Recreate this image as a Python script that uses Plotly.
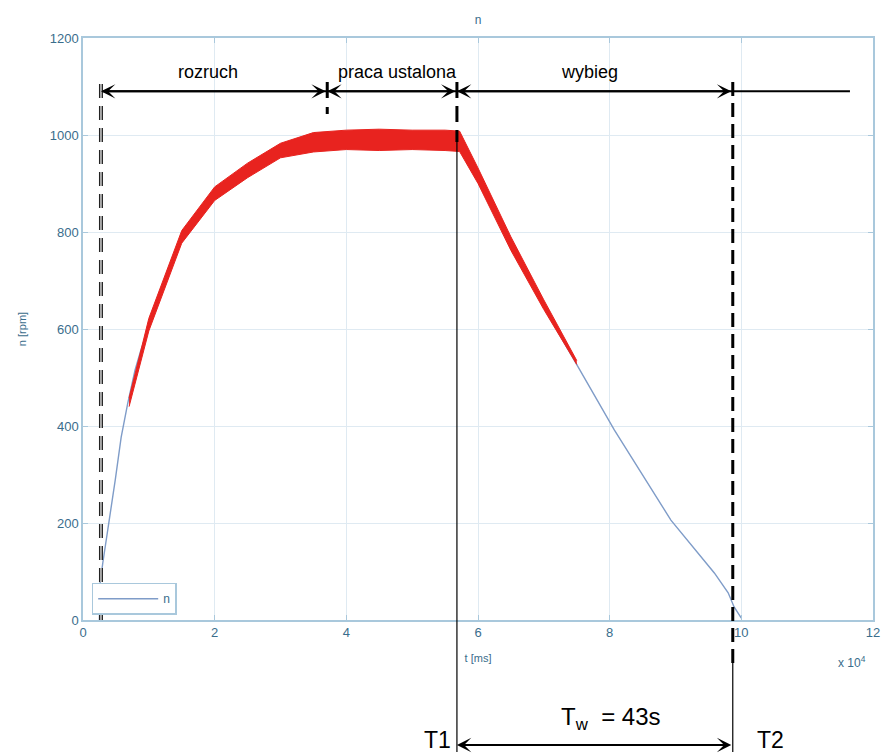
import plotly.graph_objects as go

# ---- data ----
t_n = [0.25, 0.26, 0.30, 0.38, 0.49, 0.58, 0.68, 0.79, 0.88, 1.10, 1.29, 1.48, 1.63, 1.87,
       2.13, 2.54, 2.94, 3.30, 3.80, 4.50, 5.20, 5.71, 5.94, 6.19, 6.54, 6.96, 7.52, 8.07,
       8.93, 9.59, 9.80, 9.89, 10.0]
n_rpm = [0, 76, 117, 186, 289, 377, 447, 515, 557, 645, 722, 784, 818, 852,
         897, 928, 963, 979, 990, 990, 990, 990, 928, 852, 763, 654, 522, 392,
         206, 97, 56, 27, 4]

# red noisy band envelope
t_band = [0.70, 1.00, 1.50, 2.00, 2.50, 3.00, 3.50, 4.00, 4.50, 5.00, 5.50, 5.72, 6.00, 6.50, 7.00, 7.50]
n_band_upper = [458, 622, 803, 893, 942, 983, 1005, 1010, 1012, 1010, 1010, 1008, 932, 790, 660, 535]
n_band_lower = [440, 596, 777, 865, 912, 953, 965, 970, 968, 970, 968, 966, 900, 762, 640, 527]

x_ticks = [0, 2, 4, 6, 8, 10, 12]
y_ticks = [0, 200, 400, 600, 800, 1000, 1200]

phase_labels = ["rozruch", "praca ustalona", "wybieg"]
phase_bounds = [0.273, 3.71, 5.68, 9.87]
arrow_end = 11.65
arrow_y = 1090

AX = "#a9c8dc"
GRID = "#dfeaf2"
TXT = "#3a6d8c"
FONT = "Liberation Sans, Arial"

fig = go.Figure()

fig.add_trace(go.Scatter(x=t_n, y=n_rpm, mode="lines", name="n",
                         line=dict(color="#7f9cc8", width=1.4)))
fig.add_trace(go.Scatter(x=t_band, y=n_band_upper, mode="lines", showlegend=False,
                         line=dict(color="#e8231f", width=1), hoverinfo="skip"))
fig.add_trace(go.Scatter(x=t_band, y=n_band_lower, mode="lines", showlegend=False,
                         fill="tonexty", fillcolor="#e8231f",
                         line=dict(color="#e8231f", width=1), hoverinfo="skip"))

# ---- pixel helpers for the fixed layout ----
PT, PB = 38, 620
def py(p):
    return (PB - p) / (PB - PT)

L, R = 83, 873
XS = (R - L) / 12.0  # px per x-unit

shapes = []
shapes.append(dict(type="line", xref="x", yref="y", x0=phase_bounds[0], x1=arrow_end,
                   y0=arrow_y, y1=arrow_y, line=dict(color="black", width=2)))
shapes.append(dict(type="line", xref="x", yref="paper", x0=phase_bounds[0], x1=phase_bounds[0],
                   y0=py(84), y1=py(620), line=dict(color="#222", width=4, dash="14px,8px")))
shapes.append(dict(type="line", xref="x", yref="paper", x0=phase_bounds[0], x1=phase_bounds[0],
                   y0=py(84), y1=py(620), line=dict(color="#cfcfcf", width=1.5, dash="14px,8px")))
shapes.append(dict(type="line", xref="x", yref="paper", x0=phase_bounds[1], x1=phase_bounds[1],
                   y0=py(82), y1=py(114), line=dict(color="black", width=3, dash="16px,9px")))
shapes.append(dict(type="line", xref="x", yref="paper", x0=phase_bounds[2], x1=phase_bounds[2],
                   y0=py(82), y1=py(142), line=dict(color="black", width=3, dash="16px,8px")))
shapes.append(dict(type="line", xref="x", yref="paper", x0=phase_bounds[2], x1=phase_bounds[2],
                   y0=py(130), y1=py(752), line=dict(color="black", width=1.2)))
shapes.append(dict(type="line", xref="x", yref="paper", x0=phase_bounds[3], x1=phase_bounds[3],
                   y0=py(82), y1=py(668), line=dict(color="black", width=3, dash="14px,7px")))
shapes.append(dict(type="line", xref="x", yref="paper", x0=phase_bounds[3], x1=phase_bounds[3],
                   y0=py(660), y1=py(752), line=dict(color="black", width=1.2)))

annotations = []
for i in range(3):
    a, b = phase_bounds[i], phase_bounds[i + 1]
    annotations.append(dict(x=a, y=arrow_y, xref="x", yref="y", text="", showarrow=True,
                            ax=(b - a) * XS, ay=0, axref="pixel", ayref="pixel",
                            arrowside="end+start", arrowhead=3, startarrowhead=3,
                            arrowsize=1.2, startarrowsize=1.2, arrowwidth=2,
                            arrowcolor="black", standoff=0, startstandoff=0))
label_x = [1.9, 4.77, 7.70]
for lab, lx in zip(phase_labels, label_x):
    annotations.append(dict(x=lx, y=py(72), xref="x", yref="paper", text=lab, showarrow=False,
                            font=dict(family=FONT, size=18, color="black"),
                            xanchor="center", yanchor="middle"))
annotations.append(dict(x=phase_bounds[2], y=py(745), xref="x", yref="paper", text="", showarrow=True,
                        ax=(phase_bounds[3] - phase_bounds[2]) * XS, ay=0, axref="pixel", ayref="pixel",
                        arrowside="end+start", arrowhead=3, startarrowhead=3,
                        arrowsize=1.2, startarrowsize=1.2, arrowwidth=2,
                        arrowcolor="black", standoff=0, startstandoff=0))
annotations.append(dict(x=5.38, y=py(740), xref="x", yref="paper", text="T1", showarrow=False,
                        font=dict(family=FONT, size=23, color="black"),
                        xanchor="center", yanchor="middle"))
annotations.append(dict(x=10.44, y=py(740), xref="x", yref="paper", text="T2", showarrow=False,
                        font=dict(family=FONT, size=23, color="black"),
                        xanchor="center", yanchor="middle"))
annotations.append(dict(x=8.02, y=py(718), xref="x", yref="paper",
                        text="T<sub>w</sub>  = 43s", showarrow=False,
                        font=dict(family=FONT, size=24, color="black"),
                        xanchor="center", yanchor="middle"))
annotations.append(dict(x=(852 - L) / (R - L), y=py(662), xref="paper", yref="paper",
                        text="x 10<sup>4</sup>", showarrow=False,
                        font=dict(family=FONT, size=12, color=TXT),
                        xanchor="center", yanchor="middle"))

fig.update_layout(
    width=883, height=756,
    margin=dict(l=L, r=883 - R, t=PT, b=756 - PB, autoexpand=False),
    paper_bgcolor="white", plot_bgcolor="white",
    title=dict(text="n", x=0.5, xref="paper", y=1 - 20 / 756, yref="container",
               xanchor="center", yanchor="middle",
               font=dict(family=FONT, size=12, color=TXT)),
    showlegend=True,
    legend=dict(x=0.011, y=0.009, xanchor="left", yanchor="bottom",
                bordercolor=AX, borderwidth=1.5, bgcolor="white", itemwidth=60,
                font=dict(family=FONT, size=12, color=TXT)),
    xaxis=dict(range=[0, 12], tickvals=x_ticks, ticktext=[str(v) for v in x_ticks],
               showgrid=True, gridcolor=GRID, gridwidth=1, zeroline=False,
               showline=True, linecolor=AX, linewidth=1.5, mirror="ticks",
               ticks="inside", ticklen=5, tickcolor=AX, ticklabeloverflow="allow",
               tickfont=dict(family=FONT, size=13, color=TXT),
               title=dict(text="t [ms]", standoff=15,
                          font=dict(family=FONT, size=11, color=TXT))),
    yaxis=dict(range=[0, 1200], tickvals=y_ticks, ticktext=[str(v) for v in y_ticks],
               showgrid=True, gridcolor=GRID, gridwidth=1, zeroline=False,
               showline=True, linecolor=AX, linewidth=1.5, mirror="ticks",
               ticks="inside", ticklen=5, tickcolor=AX,
               tickfont=dict(family=FONT, size=13, color=TXT),
               title=dict(text="n [rpm]", standoff=21,
                          font=dict(family=FONT, size=11, color=TXT))),
    shapes=shapes,
    annotations=annotations,
)

fig.write_html("out.html")
